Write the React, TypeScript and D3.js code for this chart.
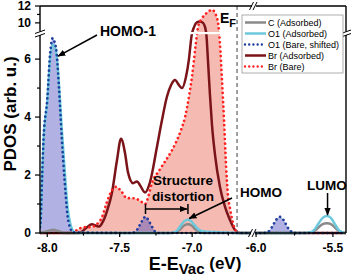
import React from "react";
import * as d3 from "d3";

// E - E_vac (eV) and PDOS (arb. u.)
const cAdsEnergy = [-8.05, -8.0, -7.96, -7.92, -7.88, -7.15, -7.11, -7.08, -7.055, -7.029, -7.005, -6.98, -6.95, -6.92, -6.6, -6.0, -5.68, -5.63, -5.6, -5.57, -5.539, -5.51, -5.48, -5.45, -5.415];
const cAdsPdos = [0, 0.06, 0.11, 0.06, 0, 0, 0.03, 0.14, 0.26, 0.3, 0.26, 0.14, 0.04, 0, 0, 0, 0, 0.04, 0.16, 0.3, 0.34, 0.3, 0.15, 0.04, 0];

const o1AdsEnergy = [-8.05, -8.045, -8.035, -8.025, -8.0, -7.98, -7.963, -7.95, -7.935, -7.92, -7.9, -7.88, -7.86, -7.84, -7.82, -7.8, -7.15, -7.12, -7.095, -7.07, -7.045, -7.029, -7.01, -6.985, -6.96, -6.935, -6.9, -6.82, -6.74, -6.7, -6.6, -6.0, -5.7, -5.65, -5.62, -5.595, -5.565, -5.539, -5.515, -5.49, -5.465, -5.44, -5.415];
const o1AdsPdos = [0.2, 0.5, 1.9, 3.2, 4.5, 6.0, 6.5, 6.45, 6.1, 5.2, 3.6, 2.2, 0.9, 0.3, 0.06, 0, 0, 0.03, 0.14, 0.32, 0.44, 0.46, 0.42, 0.28, 0.14, 0.07, 0.04, 0.03, 0.01, 0, 0, 0, 0, 0.02, 0.12, 0.32, 0.53, 0.59, 0.53, 0.33, 0.12, 0.03, 0];

const o1BareEnergy = [-8.05, -8.045, -8.035, -8.025, -8.0, -7.98, -7.963, -7.95, -7.935, -7.92, -7.9, -7.88, -7.86, -7.84, -7.82, -7.42, -7.39, -7.37, -7.35, -7.322, -7.295, -7.275, -7.255, -7.23, -6.6, -6.0, -5.95, -5.92, -5.895, -5.87, -5.845, -5.82, -5.795, -5.77, -5.74, -5.415];
const o1BarePdos = [0.2, 0.5, 2.0, 3.3, 4.6, 6.2, 6.72, 6.6, 6.2, 5.1, 3.3, 1.8, 0.6, 0.15, 0.02, 0, 0.05, 0.2, 0.38, 0.56, 0.38, 0.2, 0.05, 0, 0, 0, 0, 0.05, 0.22, 0.45, 0.56, 0.44, 0.2, 0.05, 0, 0];

const brAdsEnergy = [-8.05, -7.79, -7.76, -7.726, -7.691, -7.664, -7.643, -7.615, -7.588, -7.553, -7.519, -7.491, -7.463, -7.443, -7.408, -7.38, -7.36, -7.325, -7.291, -7.243, -7.208, -7.174, -7.146, -7.118, -7.091, -7.07, -7.042, -7.022, -7.004, -6.987, -6.967, -6.946, -6.925, -6.911, -6.901, -6.891, -6.877, -6.863, -6.842, -6.808, -6.773, -6.739, -6.704, -6.677, -6.6, -6.0, -5.415];
const brAdsPdos = [0, 0, 0.05, 0.2, 0.3, 0.25, 0.22, 0.4, 0.75, 1.4, 2.5, 3.25, 2.75, 2.1, 1.72, 1.78, 1.65, 1.4, 1.75, 2.97, 3.9, 4.7, 5.1, 5.28, 5.1, 5.0, 5.4, 6.0, 6.8, 9.5, 10.05, 10.15, 10.0, 9.5, 6.8, 5.97, 4.76, 3.72, 2.69, 1.59, 0.9, 0.45, 0.1, 0, 0, 0, 0];

const brBareEnergy = [-8.05, -7.843, -7.795, -7.753, -7.705, -7.664, -7.622, -7.588, -7.553, -7.525, -7.484, -7.45, -7.408, -7.36, -7.325, -7.3, -7.285, -7.222, -7.18, -7.139, -7.105, -7.077, -7.049, -7.022, -7.001, -6.98, -6.967, -6.958, -6.93, -6.898, -6.863, -6.835, -6.818, -6.808, -6.794, -6.78, -6.766, -6.753, -6.739, -6.718, -6.697, -6.67, -6.6, -6.0, -5.415];
const brBarePdos = [0, 0, 0.1, 0.2, 0.2, 0.28, 0.55, 1.07, 1.48, 1.59, 1.41, 1.2, 1.2, 1.12, 1.0, 1.3, 1.6, 2.2, 2.52, 2.86, 3.2, 3.55, 4.0, 4.7, 5.4, 6.3, 6.85, 9.6, 10.6, 11.2, 11.55, 10.9, 9.6, 6.55, 5.28, 3.9, 2.34, 1.31, 0.86, 0.34, 0.07, 0, 0, 0, 0];

const legendLabels = ["C (Adsorbed)", "O1 (Adsorbed)", "O1 (Bare, shifted)", "Br (Adsorbed)", "Br (Bare)"];

const xMajorLeft = [-8.0, -7.5, -7.0];
const xMinorLeft = [-7.75, -7.25, -6.75];
const xMajorRight = [-6.0, -5.5];
const xMinorRight = [-5.75];
const yMajorLow = [0, 2, 4, 6];
const yMinorLow = [1, 3, 5];
const yMajorHigh = [10, 12];
const yMinorHigh = [11];
const fermiLevel = -6.69;

const font = "Arial, 'Liberation Sans', Helvetica, sans-serif";

export default function App() {
  const left = 40, right = 346, top = 6, bottom = 233;
  const xBreak = 253, yBreak = 33;

  // broken axes: piecewise scales for the marks
  const xScale = d3.scaleLinear().domain([-8.05, -6.58, -6.02, -5.415]).range([left, xBreak, xBreak, right]);
  const yScale = d3.scaleLinear().domain([0, 6.9, 8.8, 12]).range([bottom, yBreak, yBreak, top]);

  const toPoints = (e: number[], p: number[]) => e.map((v, i) => [v, p[i]] as [number, number]);
  const line = d3.line<[number, number]>().x((d) => xScale(d[0])).y((d) => yScale(d[1])).curve(d3.curveMonotoneX);
  const area = d3.area<[number, number]>().x((d) => xScale(d[0])).y0(bottom).y1((d) => yScale(d[1])).curve(d3.curveMonotoneX);

  const gray = "#8a8a8a";
  const cyan = "#6cc9dc";
  const navy = "#1e3f9e";
  const darkRed = "#7a1418";
  const red = "#ff2222";
  const dots = "0.01 4.6";

  const series = [
    { label: legendLabels[3], pts: toPoints(brAdsEnergy, brAdsPdos), color: darkRed, dash: null },
    { label: legendLabels[4], pts: toPoints(brBareEnergy, brBarePdos), color: red, dash: dots },
    { label: legendLabels[0], pts: toPoints(cAdsEnergy, cAdsPdos), color: gray, dash: null },
    { label: legendLabels[1], pts: toPoints(o1AdsEnergy, o1AdsPdos), color: cyan, dash: null },
    { label: legendLabels[2], pts: toPoints(o1BareEnergy, o1BarePdos), color: navy, dash: dots },
  ];

  const legend = [
    { label: legendLabels[0], color: gray, dash: null },
    { label: legendLabels[1], color: cyan, dash: null },
    { label: legendLabels[2], color: navy, dash: dots },
    { label: legendLabels[3], color: darkRed, dash: null },
    { label: legendLabels[4], color: red, dash: dots },
  ];

  const xTicks = [
    ...xMajorLeft.map((v) => ({ v, major: true })),
    ...xMinorLeft.map((v) => ({ v, major: false })),
    ...xMajorRight.map((v) => ({ v, major: true })),
    ...xMinorRight.map((v) => ({ v, major: false })),
  ];
  const yTicks = [
    ...yMajorLow.map((v) => ({ v, major: true })),
    ...yMinorLow.map((v) => ({ v, major: false })),
    ...yMajorHigh.map((v) => ({ v, major: true })),
    ...yMinorHigh.map((v) => ({ v, major: false })),
  ];

  const ef = xScale(fermiLevel);

  return (
    <svg
      width={353}
      height={276}
      style={{ position: "absolute", left: 0, top: 0, background: "#fff" }}
      fontFamily={font}
    >
      <defs>
        <clipPath id="plotClip">
          <rect x={left} y={top - 1} width={right - left} height={bottom - top + 3} />
        </clipPath>
        <marker id="head" viewBox="0 0 10 10" refX="9" refY="5" markerWidth="8" markerHeight="8" markerUnits="userSpaceOnUse" orient="auto">
          <path d="M0,1 L10,5 L0,9 z" fill="#000" />
        </marker>
      </defs>

      <g clipPath="url(#plotClip)">
        {/* fills */}
        <path d={area(toPoints(brBareEnergy, brBarePdos)) || ""} fill="rgba(232,105,85,0.45)" />
        <path d={area(toPoints(o1BareEnergy, o1BarePdos)) || ""} fill="rgba(70,70,190,0.42)" />

        {/* E_F */}
        <line x1={ef} x2={ef} y1={top} y2={bottom} stroke="#808080" strokeWidth={1.5} strokeDasharray="4,3" />

        {series.map((s) => (
          <path
            key={s.label}
            d={line(s.pts) || ""}
            fill="none"
            stroke={s.color}
            strokeWidth={s.dash ? 2.7 : 2.5}
            strokeDasharray={s.dash || undefined}
            strokeLinecap={s.dash ? "round" : "butt"}
            strokeLinejoin="round"
          />
        ))}

        {/* y break gap */}
        <rect x={left + 1} y={yBreak - 1} width={right - left - 2} height={2.2} fill="#fff" />
      </g>

      {/* frame */}
      <g stroke="#000" strokeWidth={1.4} fill="none">
        <line x1={left} x2={left} y1={top} y2={bottom + 0.7} />
        <line x1={right} x2={right} y1={top} y2={bottom} />
        <line x1={left} x2={right} y1={top} y2={top} />
        <line x1={left} x2={right} y1={bottom} y2={bottom} />
      </g>

      {/* break marks */}
      <g stroke="#000" strokeWidth={1}>
        <rect x={left - 2} y={yBreak - 1.5} width={4} height={3.5} fill="#fff" stroke="none" />
        <line x1={left - 5} y1={yBreak + 0.5} x2={left + 5} y2={yBreak - 3} />
        <line x1={left - 5} y1={yBreak + 4} x2={left + 5} y2={yBreak + 0.5} />
        <rect x={right - 2} y={yBreak - 1.5} width={4} height={3.5} fill="#fff" stroke="none" />
        <line x1={right - 5} y1={yBreak + 0.5} x2={right + 5} y2={yBreak - 3} />
        <line x1={right - 5} y1={yBreak + 4} x2={right + 5} y2={yBreak + 0.5} />
        <rect x={xBreak - 2} y={bottom - 2} width={4} height={4} fill="#fff" stroke="none" />
        <line x1={xBreak - 4.5} y1={bottom + 4} x2={xBreak - 0.5} y2={bottom - 4} />
        <line x1={xBreak - 1} y1={bottom + 4} x2={xBreak + 3} y2={bottom - 4} />
        <rect x={xBreak - 1} y={top - 2} width={4} height={4} fill="#fff" stroke="none" />
        <line x1={xBreak - 3.5} y1={top + 4} x2={xBreak + 0.5} y2={top - 4} />
        <line x1={xBreak} y1={top + 4} x2={xBreak + 4} y2={top - 4} />
      </g>

      {/* x ticks */}
      {xTicks.map((t) => (
        <line key={"xt" + t.v} x1={xScale(t.v)} x2={xScale(t.v)} y1={bottom} y2={bottom + (t.major ? 4 : 2.5)} stroke="#000" strokeWidth={1.2} />
      ))}
      {[...xMajorLeft, ...xMajorRight].map((v) => (
        <text key={"xl" + v} x={xScale(v)} y={252} textAnchor="middle" fontSize={12} fontWeight="bold">
          {v.toFixed(1)}
        </text>
      ))}

      {/* y ticks */}
      {yTicks.map((t) => (
        <line key={"yt" + t.v} x1={left - (t.major ? 5 : 3)} x2={left} y1={yScale(t.v)} y2={yScale(t.v)} stroke="#000" strokeWidth={1.2} />
      ))}
      {[...yMajorLow, ...yMajorHigh].map((v) => (
        <text key={"yl" + v} x={31} y={yScale(v)} dy="0.36em" textAnchor="end" fontSize={12} fontWeight="bold">
          {v}
        </text>
      ))}

      {/* axis titles */}
      <text transform="translate(16,114) rotate(-90)" textAnchor="middle" fontSize={17} fontWeight="bold">
        PDOS (arb. u.)
      </text>
      <text x={195} y={270} textAnchor="middle" fontWeight="bold" fontSize={18}>
        E-E
        <tspan fontSize={15} dy={4}>Vac</tspan>
        <tspan fontSize={17} dy={-5}> (eV)</tspan>
      </text>

      {/* E_F label */}
      <text x={220} y={23} fontSize={14} fontWeight="bold">
        E<tspan fontSize={11} dy={4}>F</tspan>
      </text>

      {/* annotations */}
      <text x={100} y={36} fontSize={14} fontWeight="bold">HOMO-1</text>
      <line x1={97} y1={35} x2={xScale(-7.925)} y2={yScale(6.1)} stroke="#000" strokeWidth={1.5} markerEnd="url(#head)" />

      <text x={183} y={185} textAnchor="middle" fontSize={13.5} fontWeight="bold">Structure</text>
      <text x={183} y={201} textAnchor="middle" fontSize={13.5} fontWeight="bold">distortion</text>
      <g stroke="#000" strokeWidth={1.5}>
        <line x1={xScale(-7.322)} x2={xScale(-7.322)} y1={204} y2={214} />
        <line x1={xScale(-7.029)} x2={xScale(-7.029)} y1={204} y2={214} />
        <line x1={xScale(-7.322)} x2={xScale(-7.029) - 1} y1={209} y2={209} markerEnd="url(#head)" />
      </g>

      <text x={240} y={197} fontSize={13.5} fontWeight="bold">HOMO</text>
      <line x1={232} y1={198} x2={xScale(-7.02)} y2={yScale(0.5)} stroke="#000" strokeWidth={1.5} markerEnd="url(#head)" />

      <text x={307} y={190} fontSize={13.5} fontWeight="bold">LUMO</text>
      <line x1={xScale(-5.535)} x2={xScale(-5.535)} y1={193} y2={yScale(0.62)} stroke="#000" strokeWidth={1.5} markerEnd="url(#head)" />

      {/* legend */}
      <g>
        <rect x={242} y={15} width={101} height={58} fill="#fff" stroke="#999" strokeWidth={0.8} />
        {legend.map((l, i) => {
          const ly = 22.5 + i * 11;
          return (
            <g key={l.label}>
              <line
                x1={245}
                x2={266}
                y1={ly}
                y2={ly}
                stroke={l.color}
                strokeWidth={l.dash ? 2.4 : 2.5}
                strokeDasharray={l.dash ? "0.01 4.2" : undefined}
                strokeLinecap={l.dash ? "round" : "butt"}
              />
              <text x={268} y={ly} dy="0.35em" fontSize={9}>
                {l.label}
              </text>
            </g>
          );
        })}
      </g>
    </svg>
  );
}
